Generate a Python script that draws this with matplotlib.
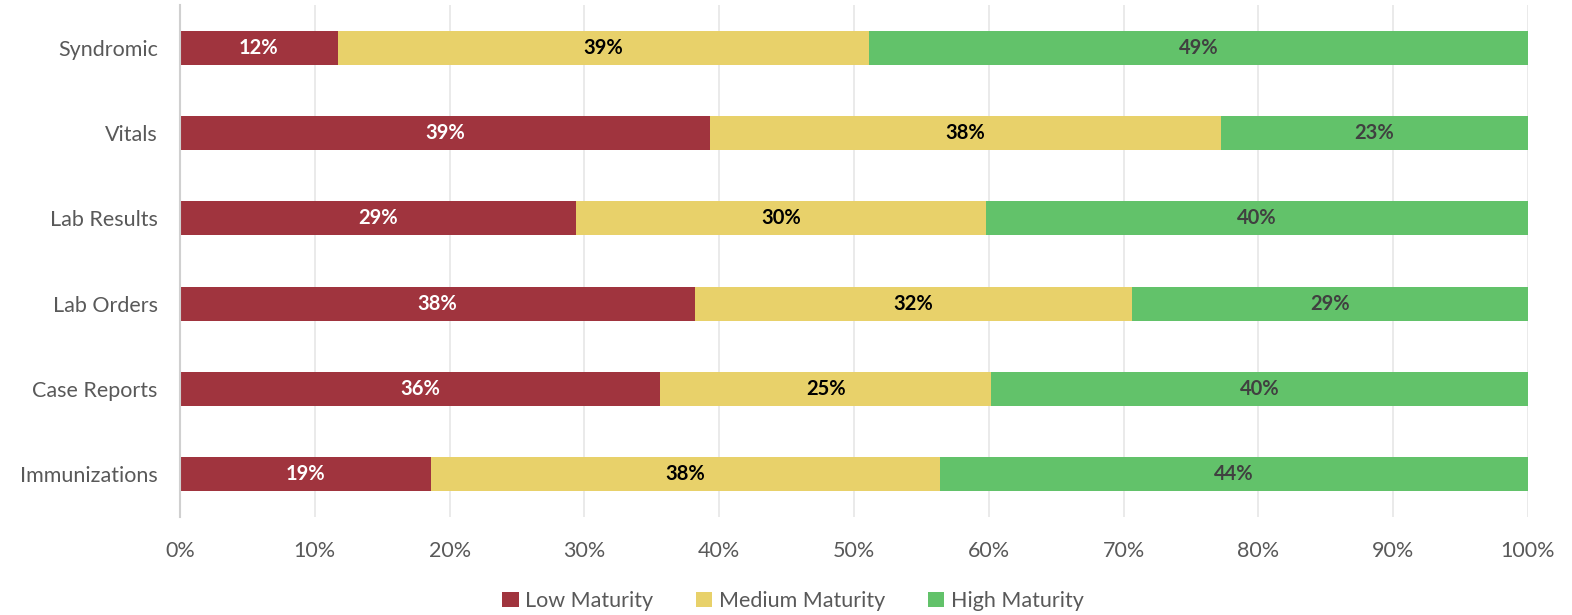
import matplotlib
matplotlib.use("Agg")
import matplotlib.pyplot as plt
import numpy as np
from matplotlib.ticker import PercentFormatter

plt.rcParams["font.family"] = ["Lato", "DejaVu Sans"]

categories = ["Syndromic", "Vitals", "Lab Results", "Lab Orders", "Case Reports", "Immunizations"]
low = [11.7, 39.3, 29.4, 38.2, 35.6, 18.6]
medium = [39.4, 37.9, 30.4, 32.4, 24.6, 37.8]
high = [48.9, 22.8, 40.2, 29.4, 39.8, 43.6]

series = [
    ("Low Maturity", low, "#A0343E", "white"),
    ("Medium Maturity", medium, "#E8D16A", "black"),
    ("High Maturity", high, "#62C26A", "#404040"),
]

fig = plt.figure(figsize=(15.72, 6.15), dpi=100)
ax = fig.add_axes([180 / 1572, 1 - 517 / 615, 1348 / 1572, 512 / 615])

y = np.arange(len(categories))[::-1]
left = np.zeros(len(categories))
for name, values, color, text_color in series:
    values = np.array(values)
    bars = ax.barh(y, values, left=left, height=0.4, color=color, label=name, zorder=2)
    for bar, value in zip(bars, values):
        ax.text(bar.get_x() + bar.get_width() / 2, bar.get_y() + bar.get_height() / 2,
                f"{value:.0f}%", ha="center", va="center", color=text_color,
                fontsize=14.5, fontweight="bold", zorder=3)
    left += values

ax.set_xlim(0, 100)
ax.set_ylim(-0.5, len(categories) - 0.5)
ax.set_xticks(np.arange(0, 101, 10))
ax.xaxis.set_major_formatter(PercentFormatter(decimals=0))
ax.set_yticks(y)
ax.set_yticklabels(categories)
ax.tick_params(axis="both", length=0, labelsize=15.5, labelcolor="#595959")
ax.tick_params(axis="y", pad=16)
ax.tick_params(axis="x", pad=17)
ax.grid(axis="x", color="#E6E6E6", linewidth=1.2, zorder=0)
for side in ["top", "right", "bottom"]:
    ax.spines[side].set_visible(False)
ax.spines["left"].set_color("#D0D0D0")
ax.spines["left"].set_linewidth(1.5)

fig.legend(loc="center", bbox_to_anchor=(793 / 1572, 1 - 601 / 615), ncol=3,
           frameon=False, fontsize=15.5, handlelength=0.75, handleheight=0.75,
           handletextpad=0.3, columnspacing=2.0, labelcolor="#595959")

fig.savefig("out.png", dpi=100)
